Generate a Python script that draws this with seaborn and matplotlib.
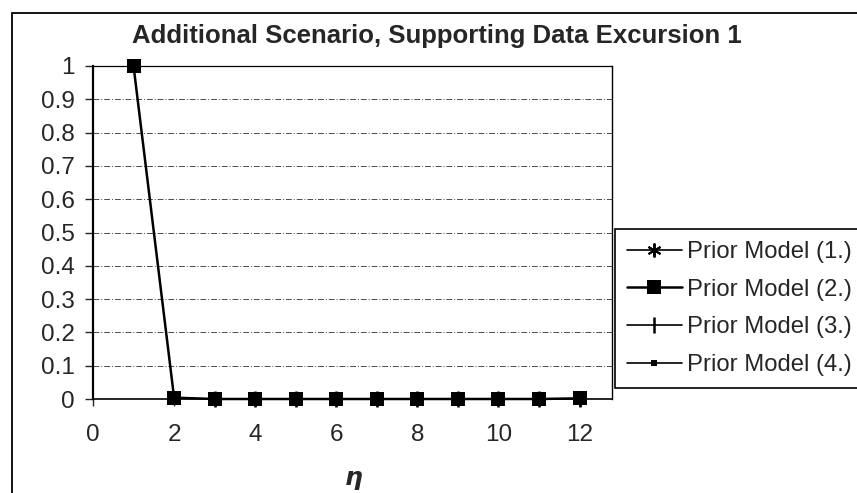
import numpy as np
import pandas as pd
import matplotlib
matplotlib.use("Agg")
import matplotlib.pyplot as plt
import seaborn as sns
from matplotlib.patches import Rectangle

# Data
eta = [1, 2, 3, 4, 5, 6, 7, 8, 9, 10, 11, 12]
eta_rest = [3, 4, 5, 6, 7, 8, 9, 10, 11, 12]
model_1 = [0.0, 0.0, 0.0, 0.0, 0.0, 0.0, 0.0, 0.0, 0.0, 0.0]
model_2 = [1.0, 0.004, 0.0, 0.0, 0.0, 0.0, 0.0, 0.0, 0.0, 0.0, 0.0, 0.002]
model_3 = [0.0, 0.0, 0.0, 0.0, 0.0, 0.0, 0.0, 0.0, 0.0, 0.0]
model_4 = [0.0, 0.0, 0.0, 0.0, 0.0, 0.0, 0.0, 0.0, 0.0, 0.0]
labels = ["Prior Model (1.)", "Prior Model (2.)", "Prior Model (3.)", "Prior Model (4.)"]
x_ticks = [0, 2, 4, 6, 8, 10, 12]
y_ticks = [0, 0.1, 0.2, 0.3, 0.4, 0.5, 0.6, 0.7, 0.8, 0.9, 1]

sns.set_style("white")
plt.rcParams["font.family"] = ["Liberation Sans", "DejaVu Sans"]

W, H = 857, 493
fig = plt.figure(figsize=(W / 100, H / 100), dpi=100)
ax = fig.add_axes([93 / W, 1 - 399 / H, (612 - 93) / W, (399 - 66) / H])

# series
common = dict(ax=ax, color="black", markeredgecolor="black", clip_on=False)
sns.lineplot(x=eta_rest, y=model_1, lw=1.2, marker=(6, 2, 0),
             markersize=10, markeredgewidth=1.4, label=labels[0], **common)
sns.lineplot(x=eta, y=model_2, lw=1.8, marker="s",
             markersize=10.5, markeredgewidth=0, label=labels[1], **common)
sns.lineplot(x=eta_rest, y=model_3, lw=1.2, marker="|",
             markersize=11, markeredgewidth=1.8, label=labels[2], **common)
sns.lineplot(x=eta_rest, y=model_4, lw=1.2, marker="s",
             markersize=4.5, markeredgewidth=0, label=labels[3], **common)

ax.set_xlim(0, 12.8)
ax.set_ylim(0, 1)
ax.set_xticks(x_ticks)
ax.set_yticks(y_ticks)
ax.set_yticklabels([f"{v:g}" for v in y_ticks])
ax.tick_params(axis="y", labelsize=17.5, length=6, width=1, direction="out", pad=7,
               left=True)
ax.tick_params(axis="x", labelsize=17.5, length=5, width=1, direction="out", pad=13,
               bottom=True)
ax.yaxis.grid(True, color="0.3", lw=0.7, linestyle=(0, (6, 2, 1, 2)))
ax.xaxis.grid(False)
ax.set_xlabel("")
ax.set_ylabel("")
for side in ["left", "bottom", "right", "top"]:
    ax.spines[side].set_color("black")
ax.spines["left"].set_linewidth(1.6)
ax.spines["bottom"].set_linewidth(1.2)
ax.spines["right"].set_linewidth(1.0)
ax.spines["top"].set_linewidth(0.9)

# title and axis label
fig.text(437 / W, 1 - 36 / H, "Additional Scenario, Supporting Data Excursion 1",
         ha="center", va="center", fontsize=18.5, fontweight="bold")
fig.text(354 / W, 1 - 478 / H, "η", ha="center", va="center", fontsize=18,
         fontweight="bold", style="italic", family=["DejaVu Sans"])

# legend
leg = ax.legend(loc="upper left", bbox_to_anchor=(615 / W, 1 - 229 / H),
                bbox_transform=fig.transFigure, fontsize=17.2, frameon=True,
                fancybox=False, edgecolor="black", framealpha=1,
                handlelength=2.3, handletextpad=0.2, labelspacing=0.66,
                borderpad=0.5, borderaxespad=0)
leg.get_frame().set_linewidth(1.2)

# outer chart frame
fig.add_artist(Rectangle((12 / W, -0.1), 1.2, 1 - 13 / H + 0.1, fill=False,
                         lw=1.3, edgecolor="black", transform=fig.transFigure))

fig.savefig("out.png", dpi=100)
